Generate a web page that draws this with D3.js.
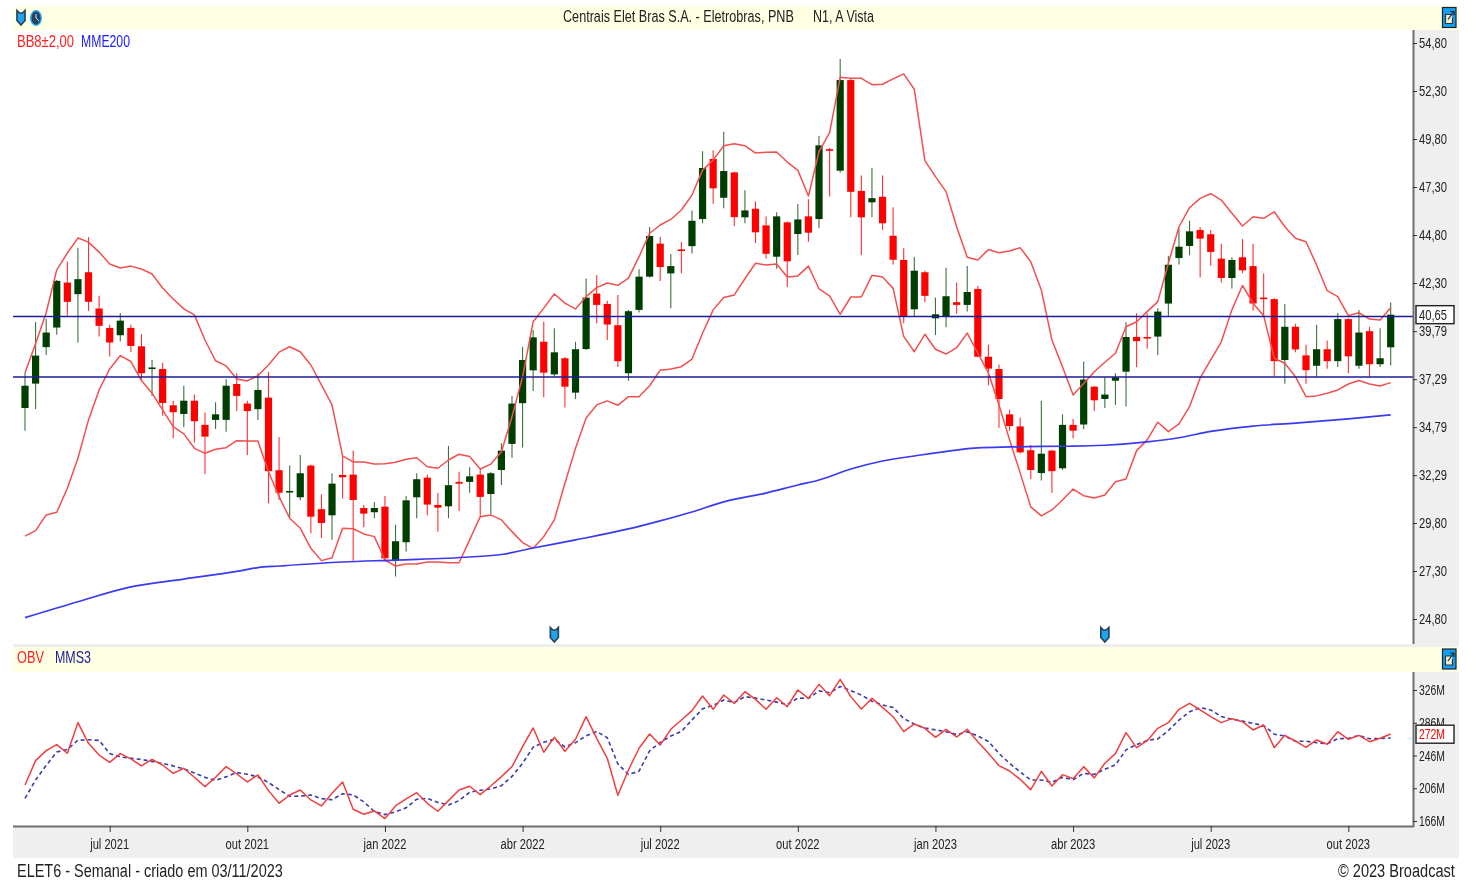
<!DOCTYPE html>
<html lang="pt-BR">
<head>
<meta charset="utf-8">
<title>ELET6 - Semanal</title>
<script src="https://cdn.jsdelivr.net/npm/d3@7"></script>
<style>
html,body{margin:0;padding:0;background:#fff;overflow:hidden}
svg{display:block;font-family:"Liberation Sans",Arial,sans-serif;filter:blur(.4px)}
</style>
</head>
<body>
<svg id="chart" width="1476" height="881"></svg>
<script>
// Weekly candles, one entry per week
const openP=[35.79,37.06,38.96,39.98,42.32,41.72,42.86,40.97,39.96,39.58,39.96,39.00,37.82,37.82,35.93,35.48,36.17,34.91,35.17,35.17,37.04,36.02,35.73,36.33,32.55,31.39,31.14,32.79,30.52,30.20,32.30,32.32,30.58,30.36,30.65,27.87,28.80,31.14,32.16,30.74,30.67,31.94,31.94,32.32,31.31,32.56,33.92,36.04,37.75,39.24,37.54,38.38,36.59,38.86,41.75,41.21,40.10,37.60,40.90,42.63,44.35,42.80,44.05,44.22,45.63,48.76,46.74,48.06,45.72,46.17,45.30,43.67,45.46,44.85,45.77,45.63,49.27,48.15,52.87,47.10,46.50,46.79,44.76,43.50,40.93,42.86,40.46,40.53,41.30,41.16,41.99,38.46,37.82,35.46,34.83,33.59,32.40,33.57,32.65,34.91,34.93,36.90,36.26,37.21,37.68,39.49,39.49,39.51,41.23,43.60,44.23,45.06,44.84,43.57,42.56,43.64,43.18,41.54,41.46,38.29,40.02,38.53,37.99,38.85,38.23,40.42,37.99,39.79,38.07,38.95];
const highP=[37.62,40.27,40.43,42.45,43.42,44.13,44.69,41.63,40.12,40.74,40.12,39.64,38.29,38.15,36.17,36.95,36.49,35.55,36.09,37.29,37.60,36.17,37.60,37.66,34.28,32.79,33.34,32.85,31.30,32.39,33.26,33.57,30.74,30.90,31.21,29.71,31.21,32.39,32.32,31.36,33.81,32.47,32.70,32.67,32.46,33.95,36.42,38.98,39.85,40.28,39.94,38.44,39.24,42.54,42.70,41.37,41.68,40.89,43.01,45.22,44.69,43.81,44.43,46.08,49.16,49.22,50.18,48.10,47.13,46.55,45.77,45.99,45.50,46.41,46.66,49.95,49.33,53.97,52.92,47.90,48.30,47.90,46.24,44.11,43.65,42.94,41.54,43.10,42.32,43.18,42.15,39.09,38.06,35.70,35.30,33.86,36.17,33.60,35.46,35.22,38.21,36.94,37.39,37.60,40.26,40.72,40.72,40.98,43.72,45.13,45.54,45.22,45.06,44.35,43.64,44.59,44.35,42.79,41.50,41.21,40.18,39.09,40.12,39.31,40.74,40.46,40.89,40.02,39.94,41.29];
const lowP=[34.61,35.74,38.55,39.60,40.59,39.20,40.85,39.51,38.47,39.25,38.70,37.25,36.42,35.39,34.21,34.79,33.99,32.34,34.70,34.55,35.63,33.34,35.17,30.83,31.00,30.10,30.98,29.27,29.02,28.93,31.07,27.84,29.58,30.05,27.79,27.01,28.31,30.05,30.20,29.35,30.05,30.43,31.38,30.17,30.25,31.78,33.20,33.73,36.68,36.35,37.42,35.81,36.26,38.81,40.21,39.33,37.92,37.21,40.76,42.58,42.41,40.98,42.81,43.84,45.41,46.43,46.19,45.25,45.41,44.38,43.58,43.04,42.09,43.76,44.45,45.16,46.81,48.06,45.72,43.76,45.72,45.07,43.27,40.20,40.55,41.30,39.59,39.99,40.70,40.82,38.43,36.98,34.76,34.61,33.42,32.09,32.02,31.38,32.56,34.21,34.68,35.63,35.79,35.94,35.87,37.91,38.87,38.55,40.55,43.27,43.74,42.58,43.20,42.33,42.02,42.81,40.85,40.60,37.42,37.05,38.69,37.05,37.42,37.84,37.92,37.60,37.84,37.42,37.92,38.00];
const closeP=[36.95,38.52,39.72,42.41,41.32,42.50,41.32,40.07,39.20,40.34,39.02,37.60,37.90,36.05,35.57,36.17,35.10,34.30,35.46,36.95,36.42,35.63,36.73,32.50,31.38,31.47,32.39,30.13,29.80,31.85,32.18,31.00,30.29,30.58,27.96,28.85,30.98,32.08,30.76,30.60,31.77,31.85,32.23,31.16,32.39,33.57,36.02,38.29,39.47,37.63,38.69,36.90,38.85,41.54,41.16,40.14,38.23,40.83,42.63,44.75,43.13,43.18,43.98,45.54,48.29,47.23,48.13,45.73,46.08,44.94,43.82,45.77,43.43,45.61,44.92,49.47,49.21,52.87,47.05,45.72,46.72,45.41,43.51,40.55,42.94,41.63,40.67,41.61,41.16,41.83,38.46,37.84,36.26,34.85,33.48,32.56,33.41,32.50,34.91,34.61,37.27,36.19,36.49,37.39,39.49,39.27,39.42,40.81,43.25,44.19,44.99,44.61,43.92,42.56,43.50,42.96,41.23,41.47,38.23,40.02,38.84,37.76,38.85,38.23,40.42,38.48,39.72,38.07,38.38,40.65];

// Bollinger bands (BB8 ±2,00)
const bbUpper=[37.62,39.14,40.75,42.98,43.86,44.64,44.43,43.91,43.29,43.08,43.18,43.03,42.77,42.04,41.47,40.95,40.64,39.33,38.25,37.98,37.30,37.20,37.47,38.03,38.70,38.98,38.72,38.03,36.99,35.95,33.30,32.98,32.98,32.87,32.89,32.96,33.12,33.20,32.73,32.65,33.08,33.38,33.26,32.61,32.87,33.51,35.33,37.42,40.28,40.99,41.73,41.25,40.95,41.59,42.06,42.30,42.18,42.55,43.67,44.89,45.32,45.61,46.10,46.88,48.18,48.70,49.45,49.55,49.45,49.07,49.11,49.12,48.60,48.17,46.83,49.14,50.13,53.01,52.96,52.96,52.63,52.65,52.93,53.19,52.39,48.67,47.84,47.06,45.23,43.64,43.50,44.04,43.88,43.97,44.14,43.41,41.94,39.33,37.94,36.47,37.07,37.68,38.17,38.64,40.02,40.28,40.81,41.33,43.33,45.23,46.22,46.71,46.95,46.62,45.93,45.27,45.75,45.67,46.01,45.23,44.63,44.45,43.24,41.90,41.59,40.60,40.75,40.42,40.37,41.01];
const bbLower=[29.12,29.40,30.22,30.36,31.61,33.17,35.17,36.73,37.82,38.52,38.21,37.22,36.56,35.69,34.82,34.44,33.69,33.43,33.64,33.72,34.09,34.07,34.07,32.47,31.17,30.05,29.53,28.48,27.84,27.99,29.53,29.50,29.23,29.09,27.87,27.56,27.66,27.66,27.77,27.77,27.73,27.73,28.92,30.13,30.22,29.96,29.35,28.78,28.48,29.09,29.96,31.87,33.69,35.27,35.95,36.16,35.93,36.38,36.37,36.95,37.76,37.82,37.94,38.34,39.68,40.90,41.54,41.68,42.52,43.33,43.24,43.29,42.61,42.67,43.18,42.00,41.63,40.67,41.57,41.57,42.70,42.61,42.02,39.52,38.72,39.63,38.85,38.60,38.93,39.69,38.64,37.62,35.95,34.13,32.41,30.64,30.17,30.48,31.00,31.57,31.22,31.10,31.26,31.95,32.09,33.57,34.13,35.05,34.56,34.96,35.86,37.35,38.29,39.24,40.90,42.17,41.25,40.60,38.38,38.12,37.42,36.38,36.42,36.56,36.73,37.04,37.22,37.04,36.94,37.11];

// MME200, read at these weeks
const mmeWeek=[0,5,10,15,20,22,24,30,35,42,45,48,52,57,60,63,66,70,73,75,78,81,84,88,90,93,96,99,102,106,109,112,116,120,125,129];
const mmeValue=[24.87,25.70,26.47,26.88,27.28,27.48,27.56,27.77,27.87,28.03,28.16,28.50,28.92,29.49,29.91,30.37,30.90,31.36,31.78,32.04,32.61,33.03,33.29,33.60,33.71,33.76,33.79,33.80,33.85,34.03,34.24,34.57,34.85,35.00,35.22,35.43];

// OBV and MMS3, in millions
const obv=[210.0,239.7,251.9,259.3,248.7,286.1,260.9,246.6,237.7,248.3,241.8,233.2,241.3,234.4,224.2,230.4,219.4,208.0,219.4,232.4,223.4,213.7,222.2,203.1,187.6,197.8,203.9,191.7,184.4,199.8,213.7,180.3,174.2,178.3,168.9,184.4,192.9,200.6,187.6,177.9,190.9,203.9,208.4,198.2,208.8,220.2,232.4,256.8,279.6,249.9,268.2,251.1,265.8,293.4,267.0,242.6,197.4,228.3,254.8,272.3,258.8,278.0,289.4,300.8,318.7,302.4,319.9,309.7,324.0,314.6,302.4,316.6,305.6,326.0,315.8,332.9,319.1,339.0,317.9,302.8,315.8,304.8,293.4,275.1,284.5,279.2,268.2,278.0,268.6,278.0,262.9,248.7,233.6,227.1,216.9,204.3,226.7,208.8,222.6,217.7,232.4,218.6,236.5,248.3,273.9,255.6,264.1,279.2,286.1,302.4,309.7,301.6,293.4,286.1,291.0,287.3,277.2,283.3,255.6,270.6,263.7,256.0,265.0,259.7,275.1,265.8,270.6,262.9,267.0,272.3];
const mms3=[193.7,216.1,233.9,250.3,253.3,264.7,265.2,264.5,248.4,244.2,242.6,241.1,238.8,236.3,233.3,229.7,224.7,219.3,215.6,219.9,225.1,223.2,219.8,213.0,204.3,196.2,196.4,197.8,193.3,192.0,199.3,197.9,189.4,177.6,173.8,177.2,182.1,192.6,193.7,188.7,185.5,190.9,201.1,203.5,205.1,209.1,220.5,236.5,256.3,262.1,265.9,256.4,261.7,270.1,275.4,267.7,235.7,222.8,226.8,251.8,262.0,269.7,275.4,289.4,303.0,307.3,313.7,310.7,317.9,316.1,313.7,311.2,308.2,316.1,315.8,324.9,322.6,330.3,325.3,319.9,312.2,307.8,304.7,291.1,284.3,279.6,277.3,275.1,271.6,274.9,269.8,263.2,248.4,236.5,225.9,216.1,216.0,213.3,219.4,216.4,224.2,222.9,229.2,234.5,252.9,259.3,264.5,266.3,276.5,289.2,299.4,304.6,301.6,293.7,290.2,288.1,285.2,282.6,272.0,269.8,263.3,263.4,261.6,260.2,266.6,266.9,270.5,266.4,266.8,267.4];

// Axes, levels and labels
const priceTicks=[54.80,52.30,49.80,47.30,44.80,42.30,39.79,37.29,34.79,32.29,29.80,27.30,24.80];
const obvTicks=[326,286,246,206,166];
const timeTickWeeks=[8,21,34,47,60,73,86,99,112,125];
const timeTickLabels=["jul 2021","out 2021","jan 2022","abr 2022","jul 2022","out 2022","jan 2023","abr 2023","jul 2023","out 2023"];
const levelLines=[40.56,37.40];
const eventWeeks=[50,102];
const lastPrice=40.65, lastObv=272;

const svg=d3.select("#chart");
const weeks=d3.range(closeP.length);
const x=d3.scaleLinear().domain([0,129]).range([25,1390.7]);
const y=d3.scaleLinear().domain([54.8,24.8]).range([43,619]);
const yO=d3.scaleLinear().domain([326,166]).range([690,821]);

const BAND="#efefef", BAR="#ffffe3", AXIS="#6e6e6e";
const rect=(a,b,w,h,f)=>svg.append("rect").attr("x",a).attr("y",b).attr("width",w).attr("height",h).attr("fill",f);
// Squeeze a text horizontally to the given width
function fit(sel,w){
  sel.each(function(){
    const t=d3.select(this), x0=+t.attr("x")||0, len=this.getComputedTextLength();
    t.attr("x",0).attr("transform",`translate(${x0},0) scale(${w/len},1)`);
  });
}
function label(t,a,b,w,size,fill){
  const s=svg.append("text").attr("x",a).attr("y",b).attr("font-size",size).attr("fill",fill).text(t);
  fit(s,w);
  return s;
}
// Panels
rect(1413,30,46,614,BAND);
rect(13,644,1446,3,BAND);
rect(1413,672,46,155,BAND);
rect(13,827,1446,31,BAND);
rect(13,6,1446,24,BAR);
rect(13,647,1446,25,BAR);

// Candles
const GREEN="#003d00", RED="#ff0000";
const up=i=>closeP[i]>=openP[i];
const gPrice=svg.append("g");
gPrice.selectAll("line.w").data(weeks).join("line").attr("class","w")
  .attr("x1",x).attr("x2",x).attr("y1",i=>y(highP[i])).attr("y2",i=>y(lowP[i]))
  .attr("stroke",i=>up(i)?"#3f6f3f":"#ff3030").attr("stroke-width",1.1);
gPrice.selectAll("rect").data(weeks).join("rect")
  .attr("x",i=>x(i)-3.6).attr("width",7.2)
  .attr("y",i=>y(Math.max(openP[i],closeP[i])))
  .attr("height",i=>Math.max(1.6,Math.abs(y(openP[i])-y(closeP[i]))))
  .attr("fill",i=>up(i)?GREEN:RED);

// Indicator lines
const lineOf=(arr,sy)=>d3.line().x((d,i)=>x(i)).y(d=>sy(d))(arr);
const path=(d,c,w,dash)=>svg.append("path").attr("d",d).attr("fill","none").attr("stroke",c).attr("stroke-width",w).attr("stroke-dasharray",dash||null).attr("stroke-linejoin","round");
path(lineOf(bbUpper,y),"#f25050",1.5);
path(lineOf(bbLower,y),"#f25050",1.5);
path(d3.line().curve(d3.curveMonotoneX).x((d,i)=>x(mmeWeek[i])).y(d=>y(d))(mmeValue),"#3a3af0",1.7);
svg.append("g").selectAll("line").data(levelLines).join("line")
  .attr("x1",13).attr("x2",1413).attr("y1",y).attr("y2",y).attr("stroke","#1c1c96").attr("stroke-width",1.5);

path(lineOf(mms3,yO),"#3c3ca8",1.6,"4 3");
path(lineOf(obv,yO),"#ee4040",1.5);

// Axes
function styleAxis(g,w,size){
  g.selectAll(".domain").attr("stroke",AXIS).attr("stroke-width",2);
  g.selectAll(".tick line").attr("stroke","#333").attr("stroke-width",1);
  g.selectAll(".tick text").attr("font-size",size).attr("fill","#222").attr("font-family","Liberation Sans");
  if(w) fit(g.selectAll(".tick text"),w);
}
const axP=svg.append("g").attr("transform","translate(1413,0)")
  .call(d3.axisRight(y).tickValues(priceTicks).tickSize(4).tickPadding(2).tickFormat(d=>d.toFixed(2).replace(".",",")));
axP.select(".domain").attr("d","M0.5,30V644");
styleAxis(axP,28,14.5);
const axO=svg.append("g").attr("transform","translate(1413,0)")
  .call(d3.axisRight(yO).tickValues(obvTicks).tickSize(4).tickPadding(2).tickFormat(d=>d+"M"));
axO.select(".domain").attr("d","M0.5,672V827");
styleAxis(axO,26,14.5);
const axT=svg.append("g").attr("transform","translate(0,826)")
  .call(d3.axisBottom(x).tickValues(timeTickWeeks).tickSize(6).tickPadding(6).tickFormat((d,i)=>timeTickLabels[i]));
axT.select(".domain").attr("d","M13,0.5H1414");
styleAxis(axT,0,14.5);
axT.selectAll(".tick text").attr("transform","translate(-0.5,1) scale(.77,1)");

// Value boxes
const valueBox=(cy,t,col,w)=>{
  svg.append("rect").attr("x",1416).attr("y",cy-9).attr("width",38).attr("height",18).attr("fill","#fff").attr("stroke","#222").attr("stroke-width",1.4);
  label(t,1419,cy+5,w,14.5,col);
};
valueBox(y(lastPrice),"40,65","#222",28);
valueBox(yO(lastObv),"272M","#ff0000",26);

// Texts
label("Centrais Elet Bras S.A. - Eletrobras, PNB",563,22,231,16,"#222");
label("N1, A Vista",813,22,61,16,"#222");
label("BB8±2,00",17,47.5,57,16.5,"#ff2020");
label("MME200",81,47.5,49,16.5,"#2020ff");
label("OBV",17,663.5,27,16.5,"#ff2020");
label("MMS3",55,663.5,36,16.5,"#1c1c96");
label("ELET6 - Semanal - criado em 03/11/2023",17,877,266,19,"#222");
label("© 2023 Broadcast",1338,877,117,19,"#222");

// Small icons
function shield(cx,cy){
  svg.append("path").attr("fill","#1fa4ee").attr("stroke","#26445e").attr("stroke-width",1.7)
    .attr("d",`M${cx-4},${cy-7} L${cx-1.5},${cy-4.5} L${cx+1.5},${cy-4.5} L${cx+4},${cy-7} L${cx+4},${cy+3} L${cx},${cy+7.5} L${cx-4},${cy+3} Z`);
}
shield(21,17.5);
svg.append("ellipse").attr("cx",36).attr("cy",18).attr("rx",5.2).attr("ry",7.2).attr("fill","#26445e").attr("stroke","#1fa4ee").attr("stroke-width",1.4);
svg.append("path").attr("d","M36,14 V18 L39,21").attr("stroke","#cfe9fb").attr("fill","none").attr("stroke-width",1);
eventWeeks.forEach(w=>shield(x(w),634.5));
function popout(cy){
  svg.append("rect").attr("x",1442.5).attr("y",cy-10).attr("width",13.5).attr("height",20).attr("fill","#12a0f4").attr("stroke","#222").attr("stroke-width",1.2);
  svg.append("path").attr("d",`M1451,${cy-3} H1445.5 V${cy+6} H1452.5 V${cy}`).attr("fill","#f2f0d8").attr("stroke","#333").attr("stroke-width",1.2);
  svg.append("path").attr("d",`M1448,${cy+2} L1453,${cy-5} M1450,${cy-6} H1454 V${cy-2}`).attr("stroke","#222").attr("fill","none").attr("stroke-width",1.2);
}
popout(17.5);
popout(659);
</script>
</body>
</html>
